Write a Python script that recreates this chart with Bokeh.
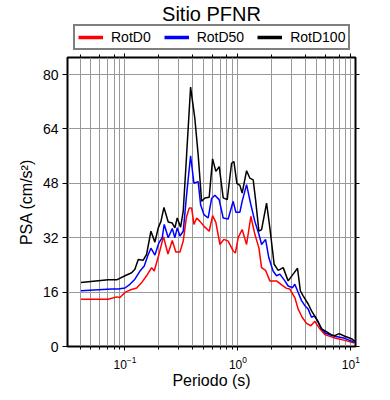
from bokeh.plotting import figure
from bokeh.layouts import column
from bokeh.models import (Range1d, FixedTicker, LogAxis, LinearAxis, Legend,
                          LegendItem, LogTicker, CustomJSTickFormatter)
from bokeh.embed import file_html
from bokeh.resources import INLINE

title_text = "Sitio PFNR"
x_label = "Periodo (s)"
y_label = "PSA (cm/s²)"
series_names = ["RotD0", "RotD50", "RotD100"]
series_colors = ["#ff0000", "#0000ff", "#000000"]
y_ticks = [0, 16, 32, 48, 64, 80]

period_rotd0 = [0.0408, 0.0711, 0.0845, 0.0903, 0.100, 0.1107, 0.127, 0.1406, 0.1555, 0.1722,
                0.1816, 0.200, 0.2193, 0.2404, 0.2623, 0.2825, 0.3069, 0.3282, 0.350, 0.3707,
                0.3894, 0.4084, 0.4315, 0.4615, 0.5106, 0.5572, 0.5971, 0.6383, 0.6934, 0.7516,
                0.8204, 0.9082, 0.9508, 1.006, 1.091, 1.194, 1.303, 1.413, 1.535, 1.621,
                1.758, 1.919, 2.198, 2.439, 2.699, 2.886, 3.192, 3.418, 3.707, 4.054,
                4.427, 4.800, 5.208, 5.888, 7.218, 8.841, 10.84]
psa_rotd0 = [13.9, 13.9, 14.6, 14.4, 15.9, 16.6, 17.2, 18.8, 20.8, 23.2,
             22.2, 27.1, 32.3, 27.2, 31.2, 27.8, 27.8, 31.0, 38.0, 40.7,
             40.7, 35.9, 37.8, 36.8, 35.1, 33.9, 38.5, 36.5, 30.0, 31.5,
             31.0, 28.1, 27.5, 32.0, 34.4, 30.0, 38.3, 33.0, 29.0, 23.2,
             22.4, 19.3, 19.3, 18.1, 17.1, 16.9, 14.4, 11.0, 8.6, 6.8,
             6.1, 7.4, 5.6, 3.5, 2.5, 1.8, 1.0]

period_rotd50 = [0.0408, 0.0763, 0.0873, 0.100, 0.1107, 0.1225, 0.1358, 0.1483, 0.1589, 0.1698,
                 0.1842, 0.200, 0.2138, 0.2228, 0.2417, 0.2623, 0.2769, 0.2903, 0.3069, 0.3282,
                 0.3515, 0.3813, 0.4084, 0.4452, 0.4677, 0.500, 0.5458, 0.5848, 0.6252, 0.6824,
                 0.7411, 0.8204, 0.9082, 0.9597, 1.042, 1.091, 1.194, 1.303, 1.413, 1.535,
                 1.621, 1.758, 1.880, 2.050, 2.198, 2.354, 2.606, 2.786, 3.048, 3.192,
                 3.418, 3.661, 3.920, 4.191, 4.489, 4.753, 5.105, 5.502, 5.970, 7.218,
                 8.841, 10.84]
psa_rotd50 = [16.4, 16.9, 16.9, 17.2, 18.3, 19.8, 22.2, 23.7, 26.6, 28.9,
              26.9, 30.5, 32.0, 35.9, 32.0, 34.7, 32.0, 34.9, 32.5, 33.9,
              44.6, 56.1, 48.0, 48.5, 41.7, 38.8, 37.8, 43.5, 44.5, 43.2,
              37.8, 37.5, 42.7, 39.5, 39.5, 42.7, 47.6, 41.7, 36.8, 33.0,
              30.0, 31.5, 26.1, 22.2, 20.8, 21.3, 19.3, 17.8, 17.3, 18.3,
              15.9, 13.5, 12.0, 11.0, 8.6, 9.0, 7.4, 5.2, 3.9, 3.0,
              2.4, 1.2]

period_rotd100 = [0.0408, 0.0711, 0.0845, 0.100, 0.1146, 0.1225, 0.1312, 0.1452, 0.1555, 0.1698,
                  0.1842, 0.1971, 0.2084, 0.2215, 0.2417, 0.2623, 0.2769, 0.2903, 0.3111, 0.3282,
                  0.3515, 0.3813, 0.4160, 0.4452, 0.4773, 0.5106, 0.5572, 0.5971, 0.6383, 0.6834,
                  0.7411, 0.8040, 0.8795, 0.9226, 0.9797, 1.042, 1.091, 1.194, 1.277, 1.366,
                  1.434, 1.535, 1.621, 1.795, 1.919, 2.094, 2.274, 2.518, 2.786, 3.085,
                  3.373, 3.573, 3.783, 4.191, 4.489, 4.970, 5.502, 5.970, 6.749, 7.218,
                  7.877, 8.841, 10.14, 10.84]
psa_rotd100 = [18.8, 19.6, 19.6, 20.8, 21.7, 22.7, 25.6, 25.4, 27.1, 33.9,
               30.7, 34.9, 36.8, 40.9, 36.6, 36.3, 34.9, 37.8, 35.1, 39.8,
               56.3, 76.3, 67.0, 56.3, 42.7, 43.7, 43.9, 55.2, 51.5, 52.9,
               43.7, 43.2, 53.9, 54.4, 48.0, 47.4, 45.1, 51.7, 49.5, 49.0,
               43.2, 33.9, 34.4, 42.2, 34.9, 24.2, 22.4, 23.2, 19.3, 21.3,
               23.0, 16.4, 14.9, 12.5, 10.5, 8.1, 5.2, 4.5, 3.4, 3.2,
               3.8, 3.0, 2.3, 1.5]

FONT = "Liberation Sans"
GRID = "#999999"
HEAD_H = 51

# ---------------- header: title + legend ----------------
h = figure(width=390, height=HEAD_H, x_range=Range1d(0, 1), y_range=Range1d(0, 1),
           output_backend="svg", toolbar_location=None,
           x_axis_location=None, y_axis_location=None,
           min_border_left=67, min_border_right=35, min_border_top=0, min_border_bottom=0,
           background_fill_color="white", border_fill_color="white")
h.outline_line_color = None
h.grid.visible = False
h.title.text = title_text
h.title.align = "center"
h.title.text_font = FONT
h.title.text_font_size = "20px"
h.title.text_font_style = "normal"
h.title.text_color = "black"
h.title.standoff = 0

items = []
for name, col in zip(series_names, series_colors):
    r = h.line(x=[-1.0, -0.5], y=[-1.0, -1.0], line_color=col, line_width=3.5)
    items.append(LegendItem(label=name, renderers=[r]))
legend = Legend(items=items, orientation="horizontal", location=(6, 1),
                border_line_color="black", border_line_width=2,
                background_fill_color="white", background_fill_alpha=1,
                padding=3, spacing=13, margin=0, glyph_width=25, glyph_height=14,
                label_standoff=8, label_height=14, label_text_color="black",
                label_text_font=FONT, label_text_font_size="14px")
h.add_layout(legend, "center")

# ---------------- main plot ----------------
p = figure(width=390, height=400 - HEAD_H, x_axis_type="log",
           x_range=Range1d(0.031, 11.0), y_range=Range1d(0, 85),
           output_backend="svg", toolbar_location=None,
           min_border_left=67, min_border_right=35, min_border_top=57 - HEAD_H,
           min_border_bottom=54,
           background_fill_color="white", border_fill_color="white")

p.outline_line_color = "black"
p.outline_line_width = 2
p.outline_line_alpha = 1

p.xgrid.grid_line_color = GRID
p.xgrid.minor_grid_line_color = GRID
p.xgrid.grid_line_width = 1
p.ygrid.grid_line_color = GRID
p.ygrid.ticker = FixedTicker(ticks=y_ticks)

xa = p.xaxis[0]
xa.axis_label = x_label
xa.axis_label_text_font = FONT
xa.axis_label_text_font_size = "16px"
xa.axis_label_text_font_style = "normal"
xa.axis_label_text_color = "black"
xa.axis_label_standoff = 0
xa.major_label_text_font = FONT
xa.major_label_text_font_size = "12px"
xa.major_label_text_color = "black"
xa.major_label_standoff = 5
xa.axis_line_color = None
xa.major_tick_line_color = "black"
xa.minor_tick_line_color = "black"
xa.major_tick_out = 4
xa.major_tick_in = 0
xa.minor_tick_out = 3
xa.minor_tick_in = 0

ya = p.yaxis[0]
ya.ticker = FixedTicker(ticks=y_ticks)
ya.axis_label = y_label
ya.axis_label_text_font = FONT
ya.axis_label_text_font_size = "16px"
ya.axis_label_text_font_style = "normal"
ya.axis_label_text_color = "black"
ya.axis_label_standoff = 5
ya.major_label_text_font = FONT
ya.major_label_text_font_size = "14px"
ya.major_label_text_color = "black"
ya.major_label_standoff = 4
ya.axis_line_color = None
ya.major_tick_out = 5
ya.major_tick_in = 0

blank = CustomJSTickFormatter(code="return ''")

ta = LogAxis(ticker=LogTicker(), formatter=blank, major_label_standoff=0,
             axis_line_color=None, major_tick_out=4, major_tick_in=0,
             minor_tick_out=3, minor_tick_in=0)
p.add_layout(ta, "above")

ra = LinearAxis(ticker=FixedTicker(ticks=y_ticks), formatter=blank,
                major_label_standoff=0, axis_line_color=None,
                major_tick_out=4, major_tick_in=0)
p.add_layout(ra, "right")

for per, psa, col in [(period_rotd0, psa_rotd0, series_colors[0]),
                      (period_rotd50, psa_rotd50, series_colors[1]),
                      (period_rotd100, psa_rotd100, series_colors[2])]:
    p.line(per, psa, line_color=col, line_width=1.5)

layout = column(h, p, spacing=0)
open("out.html", "w").write(file_html(layout, INLINE))
